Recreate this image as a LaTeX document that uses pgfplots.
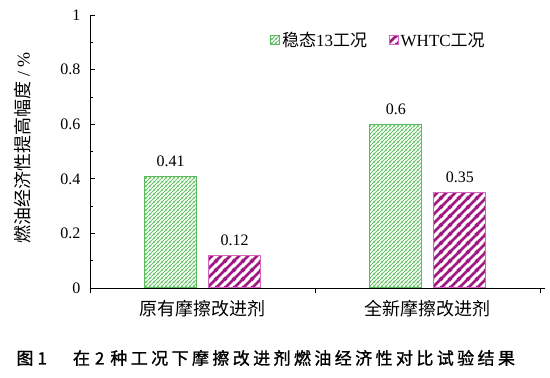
\documentclass[border=0pt]{standalone}
\usepackage{fontspec}
\setmainfont{Liberation Serif}
\newfontfamily\cjk{Noto Sans CJK SC}
\newfontfamily\cjkcap[FakeBold=1.2]{Noto Sans CJK SC}
\usepackage{pgfplots}
\pgfplotsset{compat=1.18}
\usetikzlibrary{patterns}
\pgfdeclarepatternformonly{thinNE}{\pgfqpoint{0pt}{0pt}}{\pgfqpoint{4.2pt}{4.2pt}}{\pgfqpoint{4.2pt}{4.2pt}}{%
  \pgfsetlinewidth{1.2pt}%
  \pgfpathmoveto{\pgfqpoint{-1pt}{-1pt}}\pgfpathlineto{\pgfqpoint{5.2pt}{5.2pt}}%
  \pgfpathmoveto{\pgfqpoint{-1pt}{3.2pt}}\pgfpathlineto{\pgfqpoint{1pt}{5.2pt}}%
  \pgfpathmoveto{\pgfqpoint{3.2pt}{-1pt}}\pgfpathlineto{\pgfqpoint{5.2pt}{1pt}}%
  \pgfusepath{stroke}}
\pgfdeclarepatternformonly{thickNE}{\pgfqpoint{0pt}{0pt}}{\pgfqpoint{9pt}{9pt}}{\pgfqpoint{9pt}{9pt}}{%
  \pgfsetlinewidth{2.8pt}%
  \pgfpathmoveto{\pgfqpoint{-2pt}{-2pt}}\pgfpathlineto{\pgfqpoint{11pt}{11pt}}%
  \pgfpathmoveto{\pgfqpoint{-3pt}{6pt}}\pgfpathlineto{\pgfqpoint{3pt}{12pt}}%
  \pgfpathmoveto{\pgfqpoint{6pt}{-3pt}}\pgfpathlineto{\pgfqpoint{12pt}{3pt}}%
  \pgfusepath{stroke}}
\definecolor{gborder}{RGB}{90,185,90}
\definecolor{ghatch}{RGB}{105,195,105}
\definecolor{mborder}{RGB}{215,100,195}
\definecolor{mhatch}{RGB}{160,25,130}
\begin{document}
\begin{tikzpicture}
\useasboundingbox (-90pt,-90pt) rectangle (460pt,288pt);
\begin{axis}[
  at={(0pt,0pt)}, anchor=south west,
  scale only axis, width=455pt, height=273pt,
  xmin=-0.5, xmax=1.52, ymin=0, ymax=1,
  axis x line*=bottom, axis y line*=left,
  axis line style={line width=0.8pt},
  every tick/.style={line width=0.7pt, black},
  tick align=inside,
  major tick length=5pt, minor tick length=3pt,
  ytick={0,0.2,0.4,0.6,0.8,1}, minor y tick num=1,
  /pgf/number format/assume math mode=true,
  y tick label style={font=\fontsize{16}{16}\selectfont, xshift=-6pt},
  xtick={-0.5,0.5,1.5}, xticklabels={},
  extra x ticks={0,1},
  extra x tick labels={{\cjk 原有摩擦改进剂},{\cjk 全新摩擦改进剂}},
  extra x tick style={tick style={draw=none}, x tick label style={font=\fontsize{18}{18}\selectfont, yshift=-4pt}},
  ylabel={{\cjk 燃油经济性提高幅度} / \%},
  ylabel style={at={(axis description cs:-0.148,0.513)}, anchor=center, rotate=0, font=\fontsize{18}{18}\selectfont},
  ybar=12pt, bar width=52pt,
  nodes near coords,
  nodes near coords style={font=\fontsize{16}{16}\selectfont, anchor=south, yshift=6pt, black},
  legend style={at={(0.879,0.908)}, anchor=east, draw=none, fill=none,
    legend columns=2, font=\fontsize{17}{17}\selectfont,
    /tikz/every even column/.append style={column sep=20pt}},
  legend image code/.code={\draw[#1, line width=0.6pt] (0pt,-4.5pt) rectangle (9pt,4.5pt);},
]
\addplot[draw=gborder, line width=1pt, pattern=thinNE, pattern color=ghatch]
  coordinates {(0,0.41) (1,0.6)};
\addplot[draw=mborder, line width=1pt, pattern=thickNE, pattern color=mhatch]
  coordinates {(0,0.12) (1,0.35)};
\legend{{\cjk 稳态}13{\cjk 工况},WHTC{\cjk 工况}}
\end{axis}
\node[anchor=west, font=\cjkcap\fontsize{17}{17}\selectfont] at (-77pt,-70pt)
  {图\hspace{4pt}1\hspace{26pt}在\hspace{5pt}2\hspace{6pt}种\hspace{3.4pt}工\hspace{3.4pt}况\hspace{3.4pt}下\hspace{3.4pt}摩\hspace{3.4pt}擦\hspace{3.4pt}改\hspace{3.4pt}进\hspace{3.4pt}剂\hspace{3.4pt}燃\hspace{3.4pt}油\hspace{3.4pt}经\hspace{3.4pt}济\hspace{3.4pt}性\hspace{3.4pt}对\hspace{3.4pt}比\hspace{3.4pt}试\hspace{3.4pt}验\hspace{3.4pt}结\hspace{3.4pt}果};
\end{tikzpicture}
\end{document}
